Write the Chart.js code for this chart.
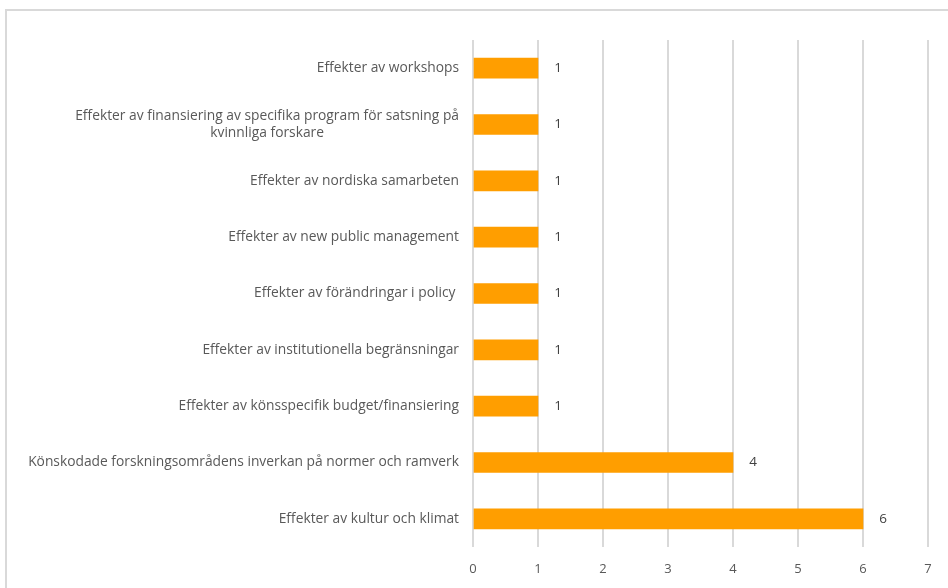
<!DOCTYPE html>
<html>
<head>
<meta charset="utf-8">
<script src="https://cdn.jsdelivr.net/npm/chart.js@4/dist/chart.umd.min.js"></script>
<style>
  html, body { margin: 0; padding: 0; background: #ffffff; }
  #wrap { position: relative; width: 948px; height: 588px; overflow: hidden; }
  #frame {
    position: absolute; left: 5px; top: 9px; width: 960px; height: 600px;
    border-left: 2px solid #d9d9d9; border-top: 2px solid #d9d9d9;
  }
  canvas { position: absolute; left: 0; top: 0; }
</style>
</head>
<body>
<div id="wrap">
  <div id="frame"></div>
  <canvas id="chart" width="948" height="588"></canvas>
</div>
<script>
// Categories, top to bottom
const categories = [
  "Effekter av workshops",
  ["Effekter av finansiering av specifika program för satsning på", "kvinnliga forskare"],
  "Effekter av nordiska samarbeten",
  "Effekter av new public management",
  "Effekter av förändringar i policy ",
  "Effekter av institutionella begränsningar",
  "Effekter av könsspecifik budget/finansiering",
  "Könskodade forskningsområdens inverkan på normer och ramverk",
  "Effekter av kultur och klimat"
];
// Number of mentions per category
const counts = [1, 1, 1, 1, 1, 1, 1, 4, 6];
// Value axis range
const xMin = 0;
const xMax = 7;

const FONT = "'Open Sans', 'Noto Sans', sans-serif";
const TEXT = "#595959";

// Category labels: block right-aligned to the axis, lines centred within the block
const categoryLabels = {
  id: "categoryLabels",
  afterDraw(chart) {
    const ctx = chart.ctx;
    const y = chart.scales.y;
    const right = chart.chartArea.left - 14;
    ctx.save();
    ctx.font = "13.8px " + FONT;
    ctx.fillStyle = TEXT;
    ctx.textBaseline = "middle";
    ctx.textAlign = "center";
    categories.forEach((c, i) => {
      const lines = Array.isArray(c) ? c : [c];
      const w = Math.max(...lines.map(l => ctx.measureText(l).width));
      const cx = right - w / 2;
      const cy = y.getPixelForTick(i);
      const lh = 16.5;
      lines.forEach((l, k) => {
        ctx.fillText(l, cx, cy + (k - (lines.length - 1) / 2) * lh);
      });
    });
    ctx.restore();
  }
};

// Value labels just past the end of each bar
const valueLabels = {
  id: "valueLabels",
  afterDatasetsDraw(chart) {
    const ctx = chart.ctx;
    const meta = chart.getDatasetMeta(0);
    ctx.save();
    ctx.font = "13.5px " + FONT;
    ctx.fillStyle = "#404040";
    ctx.textBaseline = "middle";
    ctx.textAlign = "center";
    meta.data.forEach((bar, i) => {
      ctx.fillText(String(counts[i]), bar.x + 20, bar.y);
    });
    ctx.restore();
  }
};

new Chart(document.getElementById("chart"), {
  type: "bar",
  data: {
    labels: categories,
    datasets: [{
      data: counts,
      backgroundColor: "#ff9e00",
      borderWidth: 0,
      barThickness: 20
    }]
  },
  options: {
    indexAxis: "y",
    responsive: false,
    animation: false,
    layout: { padding: { top: 40, right: 20, left: 0, bottom: 0 } },
    plugins: { legend: { display: false }, tooltip: { enabled: false } },
    scales: {
      x: {
        min: xMin, max: xMax,
        ticks: { stepSize: 1, color: TEXT, font: { family: FONT, size: 13 }, padding: 14 },
        grid: { color: "#d9d9d9", lineWidth: 2, drawTicks: false },
        border: { display: false },
        afterFit(s) { s.height = 41; }
      },
      y: {
        ticks: { display: false },
        grid: { display: false },
        border: { display: false },
        afterFit(s) { s.width = 473; }
      }
    }
  },
  plugins: [categoryLabels, valueLabels]
});
</script>
</body>
</html>
